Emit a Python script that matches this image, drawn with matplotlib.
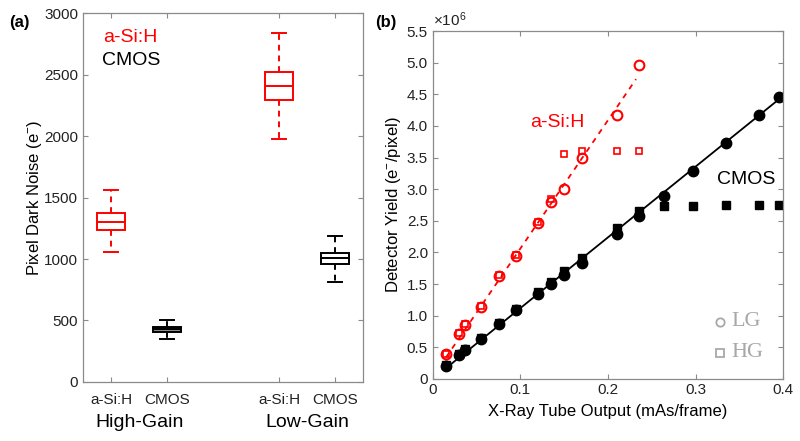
import numpy as np
import matplotlib
matplotlib.use("Agg")
from matplotlib import pyplot as plt
from matplotlib.ticker import FuncFormatter

# Fonts (Arial-like)
plt.rcParams['font.family'] = ['Liberation Sans', 'DejaVu Sans']
plt.rcParams['mathtext.fontset'] = 'custom'
plt.rcParams['mathtext.rm'] = 'Liberation Sans'
plt.rcParams['mathtext.it'] = 'Liberation Sans:italic'
plt.rcParams['mathtext.bf'] = 'Liberation Sans:bold'

################################################################################
# Data
################################################################################
# (a) pixel dark noise box stats (e-)
box_labels = ["a-Si:H", "CMOS", "a-Si:H", "CMOS"]
box_groups = ["High-Gain", "Low-Gain"]
box_whislo = [1054, 347, 1980, 815]
box_q1 = [1237, 404, 2298, 957]
box_med = [1303, 428, 2407, 1005]
box_q3 = [1371, 450, 2518, 1053]
box_whishi = [1561, 505, 2843, 1190]

# (b) detector yield (x10^6 e-/pixel) vs tube output (mAs/frame)
x_asi = [0.015, 0.030, 0.037, 0.055, 0.075, 0.095, 0.120, 0.135, 0.150,
         0.170, 0.210, 0.235]
asi_lg = [0.39, 0.71, 0.85, 1.14, 1.63, 1.94, 2.46, 2.80, 3.00, 3.49, 4.18, 4.97]
asi_hg = [0.40, 0.73, 0.87, 1.16, 1.65, 1.96, 2.48, 2.85, 3.56, 3.61, 3.61, 3.61]

x_cmos = [0.015, 0.030, 0.037, 0.055, 0.075, 0.095, 0.120, 0.135, 0.150,
          0.170, 0.210, 0.235, 0.264, 0.297, 0.335, 0.372, 0.395]
cmos_lg = [0.21, 0.38, 0.46, 0.63, 0.87, 1.09, 1.34, 1.50, 1.65, 1.84, 2.29,
           2.58, 2.90, 3.29, 3.73, 4.17, 4.45]
cmos_hg = [0.22, 0.40, 0.47, 0.65, 0.89, 1.11, 1.37, 1.53, 1.70, 1.91, 2.38,
           2.66, 2.74, 2.74, 2.75, 2.75, 2.75]

# linear fits (end points)
asi_fit_x = [0.015, 0.232]
asi_fit_y = [0.34, 4.74]
cmos_fit_x = [0.015, 0.395]
cmos_fit_y = [0.17, 4.42]

################################################################################
# Figure
################################################################################
fig = plt.figure(figsize=(8.0, 4.41), dpi=100)
spine_gray = '#8a8a8a'

def style_axes(ax):
    for s in ax.spines.values():
        s.set_color(spine_gray)
        s.set_linewidth(0.9)
    ax.tick_params(direction='in', length=3.5, width=0.8, color=spine_gray,
                   labelsize=11, labelcolor='#222222',
                   top=True, right=True)

# ---- (a) box plot
ax1 = fig.add_axes([0.104, 0.134, 0.350, 0.836])
positions = [1, 2, 4, 5]
colors = ['red', 'black', 'red', 'black']
for i in range(4):
    stats = [dict(whislo=box_whislo[i], q1=box_q1[i], med=box_med[i],
                  q3=box_q3[i], whishi=box_whishi[i], fliers=[])]
    c = colors[i]
    face = '#8c8c8c' if i == 1 else 'none'
    ax1.bxp(stats, positions=[positions[i]], widths=0.5, capwidths=0.25,
            patch_artist=True, manage_ticks=False,
            boxprops=dict(facecolor=face, edgecolor=c, linewidth=1.4),
            medianprops=dict(color=c, linewidth=1.4),
            whiskerprops=dict(color=c, linewidth=1.4, linestyle=(0, (3, 2.5))),
            capprops=dict(color=c, linewidth=1.4))
ax1.set_xlim(0.5, 5.5)
ax1.set_ylim(0, 3000)
ax1.set_yticks([0, 500, 1000, 1500, 2000, 2500, 3000])
ax1.set_xticks(positions)
ax1.set_xticklabels(box_labels)
style_axes(ax1)
ax1.tick_params(axis='x', pad=8)
ax1.set_ylabel(r'Pixel Dark Noise (e$^{-}$)', fontsize=12, labelpad=0)
ax1.text(1.5, -0.11, box_groups[0], transform=ax1.get_xaxis_transform(),
         ha='center', va='center', fontsize=14)
ax1.text(4.5, -0.11, box_groups[1], transform=ax1.get_xaxis_transform(),
         ha='center', va='center', fontsize=14)
ax1.text(0.86, 2805, 'a-Si:H', color='red', fontsize=14, va='center')
ax1.text(0.84, 2615, 'CMOS', color='black', fontsize=14, va='center')
fig.text(0.012, 0.95, '(a)', fontsize=12, fontweight='bold', va='center')

# ---- (b) yield vs tube output
ax2 = fig.add_axes([0.541, 0.1406, 0.438, 0.789])
ax2.plot(asi_fit_x, asi_fit_y, color='red', linewidth=1.3,
         linestyle=(0, (3, 3)))
ax2.plot(cmos_fit_x, cmos_fit_y, color='black', linewidth=1.3)
ax2.plot(x_asi, asi_hg, linestyle='none', marker='s', markersize=4.5,
         markerfacecolor='none', markeredgecolor='red', markeredgewidth=1.2)
ax2.plot(x_asi, asi_lg, linestyle='none', marker='o', markersize=7,
         markerfacecolor='none', markeredgecolor='red', markeredgewidth=1.5)
ax2.plot(x_cmos, cmos_lg, linestyle='none', marker='o', markersize=7.5,
         color='black')
ax2.plot(x_cmos, cmos_hg, linestyle='none', marker='s', markersize=5.5,
         color='black')
ax2.set_xlim(0, 0.4)
ax2.set_ylim(0, 5.5)
ax2.set_xticks([0, 0.1, 0.2, 0.3, 0.4])
ax2.set_yticks(np.arange(0, 5.51, 0.5))
ax2.xaxis.set_major_formatter(FuncFormatter(lambda v, p: '0' if v == 0 else f'{v:.1f}'))
ax2.yaxis.set_major_formatter(FuncFormatter(lambda v, p: '0' if v == 0 else f'{v:.1f}'))
style_axes(ax2)
ax2.tick_params(axis='x', pad=3)
ax2.set_xlabel('X-Ray Tube Output (mAs/frame)', fontsize=12, labelpad=5)
ax2.set_ylabel(r'Detector Yield (e$^{-}$/pixel)', fontsize=12, labelpad=3)
ax2.text(0.0, 1.005, r'$\times10^{6}$', transform=ax2.transAxes,
         fontsize=11, ha='left', va='bottom', color='#222222')
ax2.text(0.111, 4.06, 'a-Si:H', color='red', fontsize=14, va='center')
ax2.text(0.3246, 3.16, 'CMOS', color='black', fontsize=14, va='center')

# gray marker key
key_gray = '#a8a8a8'
ax2.plot([0.82], [0.164], transform=ax2.transAxes, marker='o', markersize=6,
         markerfacecolor='none', markeredgecolor=key_gray, markeredgewidth=1.3,
         clip_on=False)
ax2.plot([0.82], [0.075], transform=ax2.transAxes, marker='s', markersize=6,
         markerfacecolor='none', markeredgecolor=key_gray, markeredgewidth=1.3,
         clip_on=False)
ax2.text(0.852, 0.164, 'LG', transform=ax2.transAxes, color=key_gray,
         fontsize=16, family='Liberation Serif', va='center')
ax2.text(0.852, 0.075, 'HG', transform=ax2.transAxes, color=key_gray,
         fontsize=16, family='Liberation Serif', va='center')
fig.text(0.469, 0.95, '(b)', fontsize=12, fontweight='bold', va='center')

fig.savefig('out.png', dpi=100)
